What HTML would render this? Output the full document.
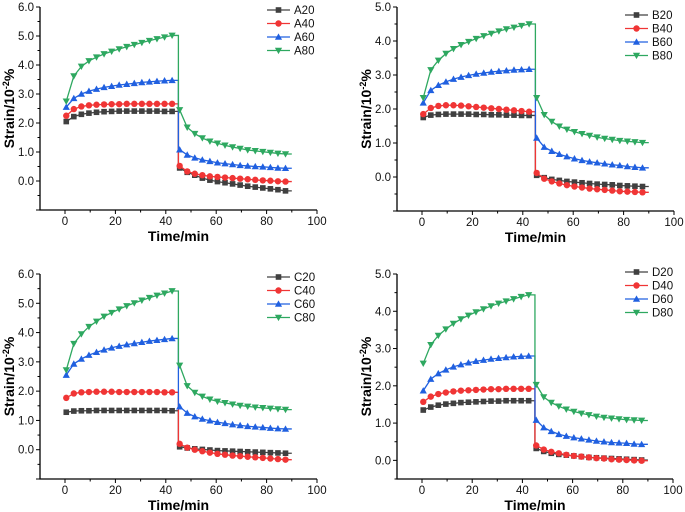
<!DOCTYPE html>
<html><head><meta charset="utf-8">
<style>
body{margin:0;background:#fff;}
svg{display:block;font-family:"Liberation Sans",Arial,sans-serif;}
</style></head>
<body>
<svg id="chart" width="685" height="512" viewBox="0 0 685 512" xmlns="http://www.w3.org/2000/svg"></svg>
<script>
const tLoad=[0.5,3.5,6.5,9.5,12.5,15.5,18.5,21.5,24.5,27.5,30.5,33.5,36.5,39.5,42.5];
const tRec=[45.5,48.5,51.5,54.5,57.5,60.5,63.5,66.5,69.5,72.5,75.5,78.5,81.5,84.5,87.5];
const xTicks=[0,20,40,60,80,100];
const A20=[2.05,2.22,2.30,2.34,2.37,2.39,2.40,2.41,2.41,2.41,2.41,2.41,2.41,2.40,2.40, 0.45,0.30,0.20,0.10,0.03,-0.02,-0.06,-0.10,-0.14,-0.18,-0.21,-0.24,-0.27,-0.30,-0.34];
const A40=[2.25,2.48,2.57,2.61,2.63,2.64,2.65,2.65,2.66,2.66,2.66,2.66,2.66,2.66,2.66, 0.52,0.33,0.25,0.20,0.16,0.14,0.12,0.10,0.08,0.06,0.04,0.02,0.01,-0.01,-0.02];
const A60=[2.55,2.85,3.00,3.10,3.17,3.23,3.27,3.31,3.34,3.37,3.40,3.42,3.44,3.46,3.47, 1.08,0.90,0.80,0.73,0.68,0.63,0.60,0.57,0.54,0.52,0.50,0.49,0.47,0.45,0.44];
const A80=[2.75,3.62,3.95,4.14,4.27,4.38,4.47,4.55,4.63,4.70,4.77,4.84,4.90,4.96,5.02, 2.45,1.85,1.63,1.48,1.37,1.30,1.23,1.17,1.12,1.07,1.04,1.01,0.98,0.95,0.93];
const B20=[1.75,1.82,1.84,1.85,1.85,1.85,1.85,1.84,1.84,1.83,1.83,1.82,1.82,1.81,1.81, 0.05,-0.02,-0.07,-0.10,-0.13,-0.15,-0.17,-0.19,-0.21,-0.22,-0.23,-0.25,-0.26,-0.27,-0.28];
const B40=[1.85,2.03,2.09,2.11,2.11,2.10,2.08,2.06,2.04,2.02,2.00,1.98,1.96,1.94,1.92, 0.12,-0.05,-0.13,-0.19,-0.24,-0.28,-0.31,-0.34,-0.36,-0.38,-0.40,-0.42,-0.43,-0.44,-0.45];
const B60=[2.18,2.55,2.70,2.80,2.88,2.94,2.99,3.03,3.06,3.09,3.11,3.13,3.15,3.16,3.17, 1.15,0.88,0.76,0.67,0.60,0.54,0.49,0.45,0.42,0.39,0.36,0.34,0.31,0.29,0.27];
const B80=[2.33,3.15,3.43,3.63,3.77,3.89,3.98,4.07,4.15,4.22,4.29,4.35,4.40,4.45,4.50, 2.33,1.83,1.63,1.49,1.40,1.33,1.27,1.22,1.17,1.13,1.10,1.07,1.05,1.03,1.01];
const C20=[1.28,1.32,1.33,1.33,1.34,1.34,1.34,1.34,1.34,1.34,1.34,1.34,1.34,1.34,1.33, 0.10,0.06,0.03,0.01,-0.01,-0.03,-0.04,-0.05,-0.06,-0.07,-0.08,-0.09,-0.10,-0.11,-0.12];
const C40=[1.77,1.92,1.96,1.97,1.98,1.98,1.98,1.97,1.97,1.97,1.97,1.97,1.97,1.96,1.96, 0.20,0.07,0.00,-0.05,-0.10,-0.14,-0.17,-0.20,-0.22,-0.24,-0.26,-0.28,-0.30,-0.32,-0.34];
const C60=[2.55,2.93,3.10,3.23,3.33,3.41,3.48,3.54,3.59,3.63,3.67,3.71,3.74,3.77,3.80, 1.47,1.25,1.13,1.05,0.99,0.94,0.90,0.86,0.83,0.80,0.78,0.76,0.74,0.72,0.71];
const C80=[2.72,3.62,3.95,4.20,4.38,4.55,4.68,4.80,4.91,5.01,5.10,5.19,5.27,5.34,5.42, 2.88,2.18,1.95,1.82,1.72,1.65,1.60,1.55,1.51,1.48,1.45,1.43,1.41,1.39,1.37];
const D20=[1.35,1.43,1.48,1.51,1.53,1.55,1.56,1.57,1.58,1.59,1.59,1.60,1.60,1.60,1.60, 0.32,0.24,0.19,0.16,0.14,0.12,0.10,0.08,0.07,0.06,0.05,0.04,0.03,0.02,0.01];
const D40=[1.57,1.71,1.78,1.82,1.85,1.87,1.88,1.89,1.90,1.91,1.91,1.92,1.92,1.92,1.92, 0.40,0.29,0.23,0.19,0.15,0.12,0.10,0.08,0.06,0.05,0.03,0.02,0.01,0.00,-0.01];
const D60=[1.87,2.18,2.33,2.43,2.51,2.57,2.62,2.66,2.69,2.72,2.74,2.76,2.78,2.79,2.80, 1.08,0.88,0.78,0.70,0.65,0.61,0.58,0.55,0.52,0.50,0.48,0.47,0.46,0.44,0.43];
const D80=[2.60,3.10,3.35,3.52,3.67,3.79,3.89,3.98,4.06,4.14,4.21,4.27,4.33,4.39,4.44, 2.03,1.70,1.55,1.45,1.37,1.31,1.26,1.22,1.18,1.15,1.13,1.11,1.09,1.08,1.07];
const yTicksA=[0,1,2,3,4,5,6];
const yTicksB=[0,1,2,3,4,5];

const NS="http://www.w3.org/2000/svg";
const svg=document.getElementById('chart');
const colors=['#404040','#f03535','#2060e0','#2ea860'];
const markers=['square','circle','up','down'];
function mk(tag,attrs,parent){const e=document.createElementNS(NS,tag);for(const k in attrs)e.setAttribute(k,attrs[k]);(parent||svg).appendChild(e);return e;}

const panels=[
 {id:'a',L:40,R:317,T:7,B:210,ymin:-1,ymax:6,yt:yTicksA,x0:65,names:['A20','A40','A60','A80'],data:[A20,A40,A60,A80],lx:267,ly:10,ytx:14},
 {id:'b',L:397,R:674,T:7,B:211,ymin:-1,ymax:5,yt:yTicksB,x0:422,names:['B20','B40','B60','B80'],data:[B20,B40,B60,B80],lx:625,ly:15,ytx:371},
 {id:'c',L:40,R:317,T:274,B:479,ymin:-1,ymax:6,yt:yTicksA,x0:65,names:['C20','C40','C60','C80'],data:[C20,C40,C60,C80],lx:267,ly:277,ytx:14},
 {id:'d',L:397,R:673,T:274,B:479,ymin:-0.5,ymax:5,yt:yTicksB,x0:422,names:['D20','D40','D60','D80'],data:[D20,D40,D60,D80],lx:625,ly:272,ytx:371}
];
// y top tick value maps to T
panels.forEach(p=>{
 const g=mk('g',{});
 
 
 const kx=(p.R-p.x0)/100;
 const X=t=>p.x0+t*kx;
 const ky=(p.B-p.T)/(p.ymax-p.ymin);
 const Y=v=>p.B-(v-p.ymin)*ky;
 // axes
 const ax=mk('path',{d:`M${p.L},${p.T}V${p.B}H${p.R}`,fill:'none',stroke:'#000','stroke-width':1.3},g);
 
 
 for(let v=Math.ceil(p.ymin*2)/2;v<=p.ymax+1e-9;v+=0.5){
   const major=Math.abs(v-Math.round(v))<1e-9;
   mk('line',{x1:p.L,x2:p.L-(major?4:2.5),y1:Y(v),y2:Y(v),stroke:'#000','stroke-width':1},g);
 }
 p.yt.forEach(v=>{
   const t=mk('text',{x:p.L-6,y:Y(v)+4,'text-anchor':'end','font-size':11.5,fill:'#111'},g);
   t.textContent=v.toFixed(1);
   
   
 });
 for(let t=0;t<=100;t+=10){
   const major=t%20===0;
   mk('line',{x1:X(t),x2:X(t),y1:p.B,y2:p.B+(major?4:2.5),stroke:'#000','stroke-width':1},g);
 }
 xTicks.forEach(v=>{
   const t=mk('text',{x:X(v),y:p.B+15,'text-anchor':'middle','font-size':11.5,fill:'#111'},g);
   t.textContent=v;
   
   
 });
 const xt=mk('text',{x:(p.L+p.R)/2,y:p.B+31,'text-anchor':'middle','font-size':14,'font-weight':'bold'},g);
 xt.textContent='Time/min';
 
 
 const cy=(p.T+p.B)/2;
 const yt=mk('text',{x:p.ytx,y:cy,'text-anchor':'middle','font-size':14,'font-weight':'bold',transform:`rotate(-90 ${p.ytx} ${cy})`},g);
 yt.innerHTML='Strain/10<tspan dy="-5" font-size="9">-2</tspan><tspan dy="5">%</tspan>';
 
 
 function marker(type,x,y,c,parent){
   let e;
   if(type==='square')e=mk('rect',{x:x-2.8,y:y-2.8,width:5.6,height:5.6,fill:c},parent);
   else if(type==='circle')e=mk('circle',{cx:x,cy:y,r:3.2,fill:c},parent);
   else if(type==='up')e=mk('path',{d:`M${x},${y-3.6}L${x+3.6},${y+2.8}L${x-3.6},${y+2.8}Z`,fill:c},parent);
   else e=mk('path',{d:`M${x},${y+3.6}L${x+3.6},${y-2.8}L${x-3.6},${y-2.8}Z`,fill:c},parent);
   return e;
 }
 p.data.forEach((vals,si)=>{
   const sg=mk('g',{},g);
   
   
   const c=colors[si];
   const nL=tLoad.length;
   let d=`M${X(0)},${Y(vals[0])}`;
   tLoad.forEach((t,i)=>{d+=`L${X(t)},${Y(vals[i])}`;});
   d+=`L${X(45)},${Y(vals[nL-1])}L${X(45)},${Y(vals[nL])}`;
   tRec.forEach((t,i)=>{d+=`L${X(t)},${Y(vals[nL+i])}`;});
   d+=`L${X(90)},${Y(vals[vals.length-1])}`;
   const ln=mk('path',{d,fill:'none',stroke:c,'stroke-width':1.3},sg);
   
   
   tLoad.concat(tRec).forEach((t,i)=>{
     const m=marker(markers[si],X(t),Y(vals[i]),c,sg);
     
     
   });
   // legend
   const lg=mk('g',{},g);
   
   
   const ly=p.ly+si*13.5;
   mk('line',{x1:p.lx,x2:p.lx+23,y1:ly,y2:ly,stroke:c,'stroke-width':1.3},lg);
   marker(markers[si],p.lx+11.5,ly,c,lg);
   const lt=mk('text',{x:p.lx+27,y:ly+4,'font-size':11.5,fill:'#111'},lg);
   lt.textContent=p.names[si];
 });
});
</script>
</body></html>
